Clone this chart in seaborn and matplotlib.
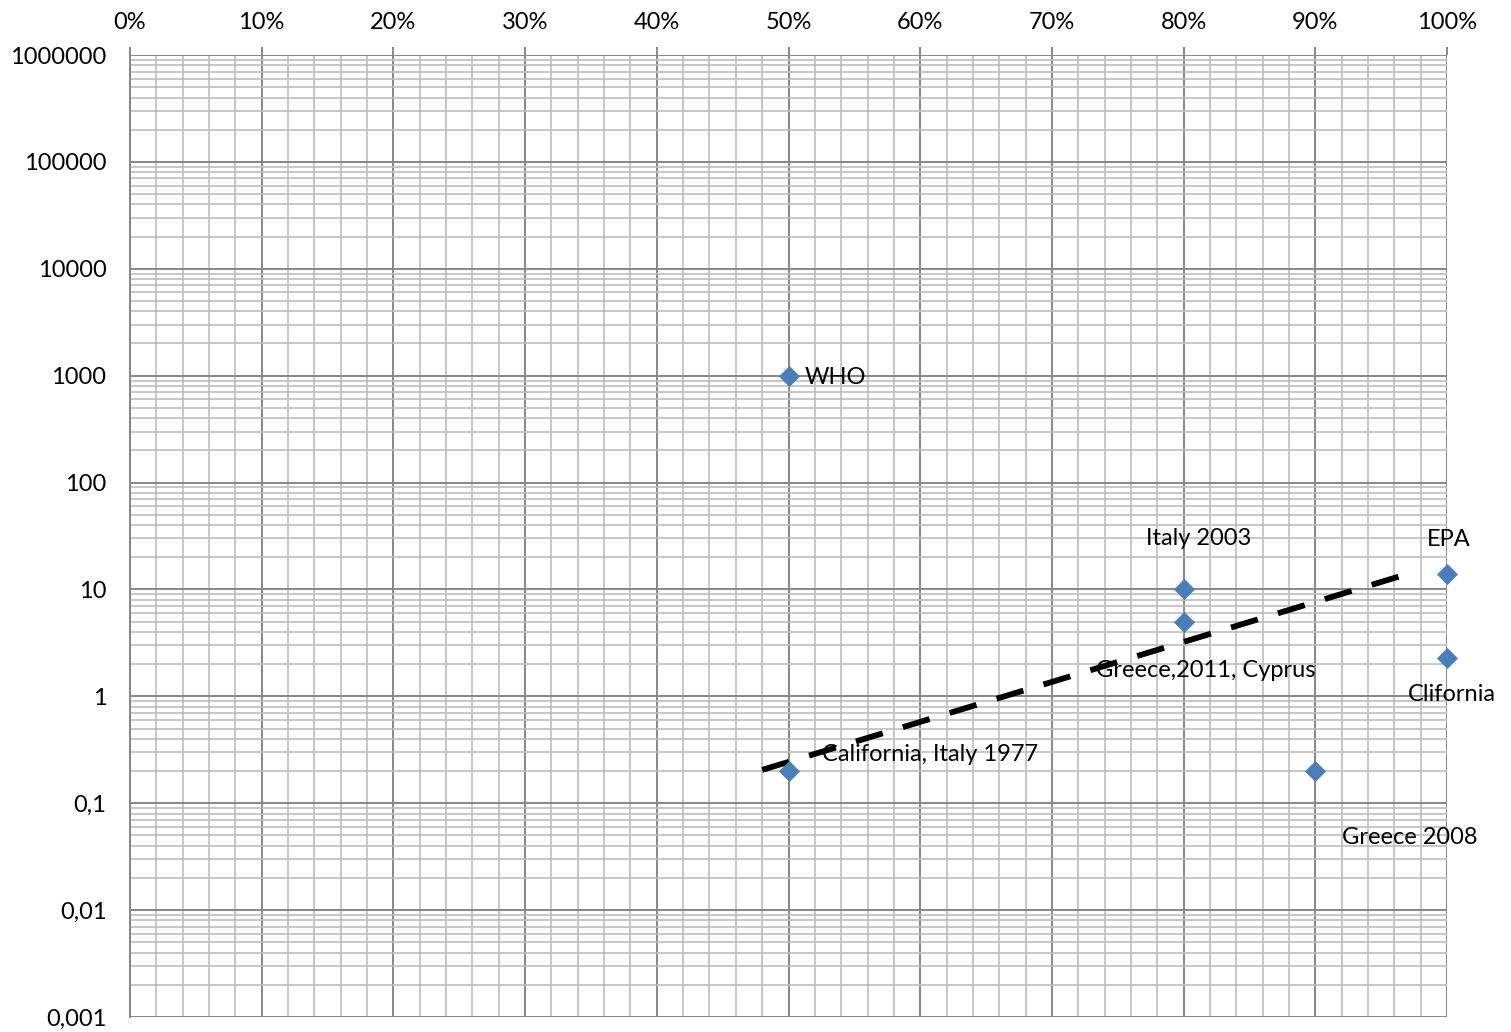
import matplotlib
matplotlib.use("Agg")
import matplotlib.pyplot as plt
import matplotlib.ticker as mticker
import numpy as np
import pandas as pd
import seaborn as sns

# Share of samples (x) against concentration limit (y, log scale)
labels = ["WHO", "California, Italy 1977", "Italy 2003", "Greece,2011, Cyprus",
          "Greece 2008", "EPA", "Clifornia"]
share = [0.50, 0.50, 0.80, 0.80, 0.90, 1.00, 1.00]
limit = [1000, 0.2, 10, 5, 0.2, 14, 2.3]

# Exponential trend line end points
trend_x = [0.48, 0.976]
trend_y = [0.205, 14.7]

x_ticks = [i / 10 for i in range(11)]
x_tick_labels = [f"{i * 10}%" for i in range(11)]
y_ticks = [1e-3, 1e-2, 1e-1, 1, 10, 100, 1000, 1e4, 1e5, 1e6]
y_tick_labels = ["0,001", "0,01", "0,1", "1", "10", "100", "1000",
                 "10000", "100000", "1000000"]

# Label offsets in pixels (dx, dy) and alignment
label_offsets = [(16, -2, "left"), (33, 17, "left"), (15, 51, "center"),
                 (22, -49, "center"), (94, -66, "center"), (2, 34, "center"),
                 (5, -37, "center")]

sns.set_style("white")
plt.rcParams["font.family"] = ["Lato", "DejaVu Sans"]

fig = plt.figure(figsize=(15.11, 10.32), dpi=100)
ax = fig.add_axes([130 / 1511, 1 - 1017 / 1032, (1447 - 130) / 1511, (1017 - 55) / 1032])

df = pd.DataFrame({"share": share, "limit": limit, "label": labels})
trend = pd.DataFrame({"share": trend_x, "limit": trend_y})

ax.set_yscale("log")
ax.set_xlim(0, 1)
ax.set_ylim(1e-3, 1e6)

major_c = "#878787"
minor_c = "#bdbdbd"
ax.xaxis.set_major_locator(mticker.FixedLocator(x_ticks))
ax.xaxis.set_minor_locator(mticker.MultipleLocator(0.02))
ax.yaxis.set_major_locator(mticker.FixedLocator(y_ticks))
ax.yaxis.set_minor_locator(mticker.LogLocator(base=10, subs=np.arange(2, 10), numticks=100))
ax.yaxis.set_minor_formatter(mticker.NullFormatter())
ax.grid(which="minor", color=minor_c, lw=1.2, zorder=0)
ax.grid(which="major", color=major_c, lw=1.4, zorder=0)
ax.set_axisbelow(True)

ax.set_xticks(x_ticks)
ax.set_xticklabels(x_tick_labels)
ax.set_yticks(y_ticks)
ax.set_yticklabels(y_tick_labels)
ax.xaxis.tick_top()
ax.tick_params(axis="both", which="major", length=6, width=1.4, color=major_c,
               labelsize=17, labelcolor="black")
ax.tick_params(axis="x", which="major", pad=10)
ax.tick_params(axis="y", which="major", pad=11)
ax.tick_params(which="minor", length=0)

for side in ["right", "bottom", "top"]:
    ax.spines[side].set_visible(False)
ax.spines["left"].set_color(major_c)
ax.spines["left"].set_linewidth(1.4)

sns.lineplot(data=trend, x="share", y="limit", ax=ax, color="black", lw=4.2,
             dashes=False, zorder=3, legend=False)
ax.lines[-1].set_dashes([4.8, 3.6])
ax.lines[-1].set_dash_capstyle("butt")

sns.scatterplot(data=df, x="share", y="limit", ax=ax, marker="D", s=105,
                color="#4a7ebb", edgecolor="#4a7ebb", linewidth=0.5, zorder=4,
                clip_on=False, legend=False)

for (lab, xv, yv), (dx, dy, ha) in zip(zip(labels, share, limit), label_offsets):
    ax.annotate(lab, (xv, yv), xytext=(dx, dy), textcoords="offset pixels",
                ha=ha, va="center", fontsize=17, color="black",
                annotation_clip=False, zorder=5)

ax.set_xlabel("")
ax.set_ylabel("")

fig.savefig("out.png", dpi=100)
